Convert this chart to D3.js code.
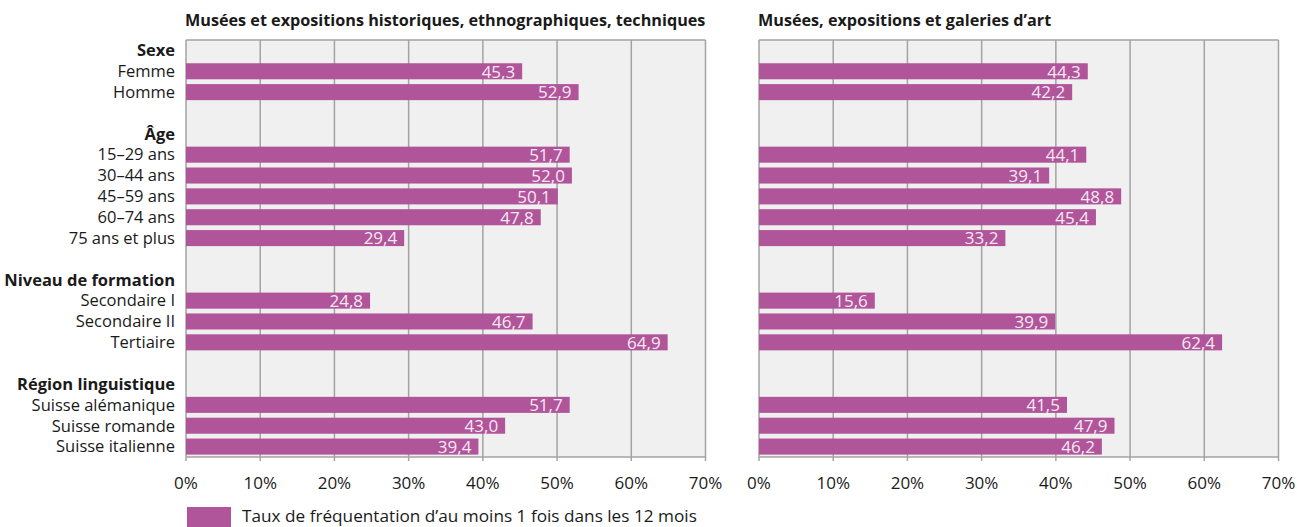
<!DOCTYPE html>
<html>
<head>
<meta charset="utf-8">
<script src="https://cdnjs.cloudflare.com/ajax/libs/d3/7.8.5/d3.min.js"></script>
<style>
body { margin: 0; background: #fff; }
text { font-family: "Open Sans", sans-serif; }
</style>
</head>
<body>
<div id="chart"></div>
<script>
// rows of the chart, "" = empty spacer row, groups are headers
var rows = ["Sexe", "Femme", "Homme", "",
    "Âge", "15–29 ans", "30–44 ans", "45–59 ans", "60–74 ans", "75 ans et plus", "",
    "Niveau de formation", "Secondaire I", "Secondaire II", "Tertiaire", "",
    "Région linguistique", "Suisse alémanique", "Suisse romande", "Suisse italienne"]
var headers = ["Sexe", "Âge", "Niveau de formation", "Région linguistique"]
var categories = ["Femme", "Homme", "15–29 ans", "30–44 ans", "45–59 ans", "60–74 ans", "75 ans et plus",
    "Secondaire I", "Secondaire II", "Tertiaire", "Suisse alémanique", "Suisse romande", "Suisse italienne"]
var histValues = [45.3, 52.9, 51.7, 52.0, 50.1, 47.8, 29.4, 24.8, 46.7, 64.9, 51.7, 43.0, 39.4]
var artValues = [44.3, 42.2, 44.1, 39.1, 48.8, 45.4, 33.2, 15.6, 39.9, 62.4, 41.5, 47.9, 46.2]
var panelTitles = ["Musées et expositions historiques, ethnographiques, techniques", "Musées, expositions et galeries d’art"]
var ticks = [0, 10, 20, 30, 40, 50, 60, 70]
var legendLabel = "Taux de fréquentation d’au moins 1 fois dans les 12 mois"

var W = 1297, H = 527
var plotTop = 40, plotBottom = 457
var barColor = "#b0559a"

var svg = d3.select("#chart").append("svg")
    .attr("width", W)
    .attr("height", H)

var y = d3.scaleBand()
    .domain(rows.map(function(d, i){ return i }))
    .range([plotTop, plotBottom])
    .paddingInner(0.23)
    .paddingOuter(0.115)

var yRow = d3.scaleBand()
    .domain(rows.map(function(d, i){ return i }))
    .range([plotTop, plotBottom])

function rowIndex(name) { return rows.indexOf(name) }

// category labels
svg.append("g").selectAll("text")
    .data(rows.filter(function(d){ return d != "" }))
    .enter().append("text")
        .attr("x", 175)
        .attr("y", function(d){ return yRow(rowIndex(d)) + yRow.bandwidth()/2 })
        .attr("dy", "0.35em")
        .attr("text-anchor", "end")
        .attr("font-size", "16.5px")
        .attr("font-weight", function(d){ return headers.indexOf(d) >= 0 ? "bold" : "normal" })
        .attr("fill", "#1a1a1a")
        .text(function(d){ return d })

function panel(x0, values, title) {
    var x = d3.scaleLinear().domain([0, 70]).range([x0, x0 + 519.5])
    var g = svg.append("g")

    g.append("rect")
        .attr("x", x(0)).attr("y", plotTop)
        .attr("width", x(70) - x(0)).attr("height", plotBottom - plotTop)
        .attr("fill", "#f0f0f0")

    g.selectAll(".grid").data(ticks)
        .enter().append("line")
            .attr("x1", function(d){ return x(d) }).attr("x2", function(d){ return x(d) })
            .attr("y1", plotTop).attr("y2", plotBottom + 4)
            .attr("stroke", "#a3a3a3").attr("stroke-width", 1.5)

    g.append("line")
        .attr("x1", x(0)).attr("x2", x(70))
        .attr("y1", plotTop).attr("y2", plotTop)
        .attr("stroke", "#a3a3a3").attr("stroke-width", 1.5)
    g.append("line")
        .attr("x1", x(0)).attr("x2", x(70))
        .attr("y1", plotBottom).attr("y2", plotBottom)
        .attr("stroke", "#a3a3a3").attr("stroke-width", 1.5)

    g.selectAll(".bar").data(categories)
        .enter().append("rect")
            .attr("x", x(0))
            .attr("y", function(d){ return y(rowIndex(d)) })
            .attr("width", function(d, i){ return x(values[i]) - x(0) })
            .attr("height", y.bandwidth())
            .attr("fill", barColor)

    g.selectAll(".val").data(categories)
        .enter().append("text")
            .attr("x", function(d, i){ return x(values[i]) - 7 })
            .attr("y", function(d){ return y(rowIndex(d)) + y.bandwidth()/2 })
            .attr("dy", "0.37em")
            .attr("text-anchor", "end")
            .attr("font-size", "17px")
            .attr("fill", "#f7e8f3")
            .text(function(d, i){ return values[i].toFixed(1).replace(".", ",") })

    g.selectAll(".tick").data(ticks)
        .enter().append("text")
            .attr("x", function(d){ return x(d) })
            .attr("y", 483)
            .attr("dy", "0.35em")
            .attr("text-anchor", "middle")
            .attr("font-size", "17px")
            .attr("fill", "#1a1a1a")
            .text(function(d){ return d + "%" })

    g.append("text")
        .attr("x", x(0) - 1)
        .attr("y", 26)
        .attr("font-size", "16.2px")
        .attr("font-weight", "bold")
        .attr("fill", "#1a1a1a")
        .text(title)
}

panel(186, histValues, panelTitles[0])
panel(759, artValues, panelTitles[1])

// legend
svg.append("rect")
    .attr("x", 187).attr("y", 507)
    .attr("width", 44).attr("height", 20)
    .attr("fill", barColor)
svg.append("text")
    .attr("x", 242).attr("y", 516)
    .attr("dy", "0.35em")
    .attr("font-size", "17.2px")
    .attr("fill", "#1a1a1a")
    .text(legendLabel)
</script>
</body>
</html>
